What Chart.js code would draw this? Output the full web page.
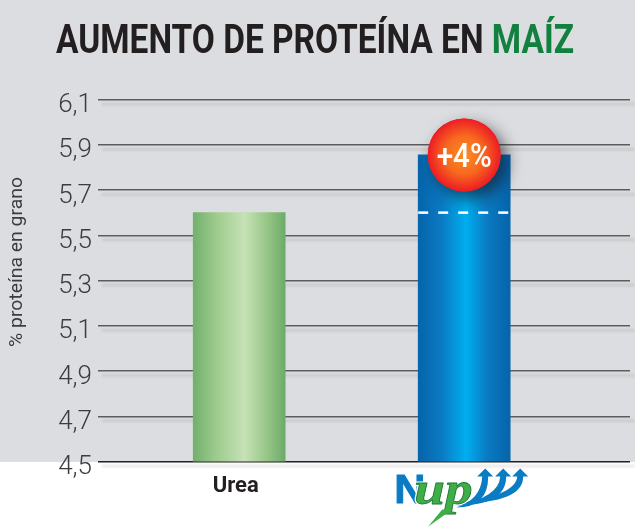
<!DOCTYPE html>
<html>
<head>
<meta charset="utf-8">
<style>
html,body{margin:0;padding:0;background:#fff;}
#wrap{position:relative;width:635px;height:528px;overflow:hidden;}
canvas{display:block;}
</style>
<script src="https://cdn.jsdelivr.net/npm/chart.js@4"></script>
</head>
<body>
<div id="wrap"><canvas id="c" width="635" height="528"></canvas></div>
<script>
const categories = ['Urea', 'Nup'];
const xTickLabels = ['Urea', ''];
const proteinValues = [5.6, 5.855];
const referenceLevel = [5.6, 5.6];
const yTickValues = [4.5, 4.7, 4.9, 5.1, 5.3, 5.5, 5.7, 5.9, 6.1];
const titleParts = ['AUMENTO DE PROTEÍNA EN ', 'MAÍZ'];
const badgeText = '+4%';
const yAxisTitle = '% proteína en grano';

const BAR_PX = 92;
const X0 = 239.2, STEP = 225;
const X_MIN = (98 - X0) / STEP, X_MAX = (630 - X0) / STEP;
const HALF_BAR = (BAR_PX / 2) / STEP;

function barGradient(ctx, cx, stops) {
  const g = ctx.createLinearGradient(cx - BAR_PX / 2, 0, cx + BAR_PX / 2, 0);
  stops.forEach(s => g.addColorStop(s[0], s[1]));
  return g;
}
const greenStops = [[0, '#72b06c'], [0.25, '#9dcb8e'], [0.56, '#c6e2b6'], [0.8, '#97c687'], [1, '#6dab68']];
const blueStops = [[0, '#0664ab'], [0.25, '#0a7ac2'], [0.52, '#00aeef'], [0.75, '#0a7ac2'], [1, '#0664ab']];

const backdrop = {
  id: 'backdrop',
  beforeDraw(chart) {
    const { ctx, scales: { y } } = chart;
    ctx.save();
    ctx.fillStyle = '#fff';
    ctx.fillRect(0, 0, chart.width, chart.height);
    ctx.fillStyle = '#dcdde0';
    ctx.fillRect(0, 0, chart.width, Math.round(y.getPixelForValue(4.5)));
    // title, condensed to the reference's width
    ctx.font = 'bold 41px Roboto, sans-serif';
    ctx.textBaseline = 'alphabetic';
    ctx.textAlign = 'left';
    const w0 = ctx.measureText(titleParts[0]).width;
    const total = w0 + ctx.measureText(titleParts[1]).width;
    ctx.save();
    ctx.translate(56, 53);
    ctx.scale(518 / total, 1);
    ctx.fillStyle = '#231f20';
    ctx.fillText(titleParts[0], 0, 0);
    ctx.fillStyle = '#12813f';
    ctx.fillText(titleParts[1], w0, 0);
    ctx.restore();
    // y axis title, condensed
    ctx.save();
    ctx.translate(17, 262);
    ctx.rotate(-Math.PI / 2);
    ctx.font = '19px Roboto, sans-serif';
    ctx.textBaseline = 'middle';
    ctx.fillStyle = '#3c3c3e';
    const ww = ctx.measureText(yAxisTitle).width;
    ctx.scale(170 / ww, 1);
    ctx.fillText(yAxisTitle, -ww / 2, 0);
    ctx.restore();
    // soft shadow under every rule
    ctx.lineWidth = 3;
    ctx.filter = 'blur(1.2px)';
    yTickValues.forEach(v => {
      const py = y.getPixelForValue(v) + 4.5;
      ctx.strokeStyle = v === 4.5 ? '#e9e9e9' : '#cbccce';
      ctx.beginPath();
      ctx.moveTo(102, py);
      ctx.lineTo(chart.width, py);
      ctx.stroke();
    });
    ctx.filter = 'none';
    ctx.restore();
  }
};

const overlay = {
  id: 'overlay',
  afterDraw(chart) {
    const { ctx, scales: { x, y } } = chart;
    const cx = x.getPixelForValue(1), cy = y.getPixelForValue(proteinValues[1]);
    const r = 36.5;
    ctx.save();
    // badge
    ctx.save();
    ctx.shadowColor = 'rgba(20,20,30,0.65)';
    ctx.shadowBlur = 16;
    ctx.shadowOffsetX = 6;
    ctx.shadowOffsetY = 7;
    ctx.fillStyle = '#ee3124';
    ctx.beginPath();
    ctx.arc(cx, cy, r, 0, Math.PI * 2);
    ctx.fill();
    ctx.restore();
    const g = ctx.createRadialGradient(cx, cy, 2, cx, cy, r);
    g.addColorStop(0, '#f98a23');
    g.addColorStop(0.5, '#f7691f');
    g.addColorStop(1, '#ed1c24');
    ctx.fillStyle = g;
    ctx.beginPath();
    ctx.arc(cx, cy, r, 0, Math.PI * 2);
    ctx.fill();
    ctx.fillStyle = '#fff';
    ctx.textAlign = 'center';
    ctx.textBaseline = 'alphabetic';
    ctx.font = '500 34px Roboto, sans-serif';
    const bw = ctx.measureText(badgeText).width;
    ctx.save();
    ctx.translate(cx, cy + 12);
    ctx.scale(55 / bw, 1);
    ctx.fillText(badgeText, 0, 0);
    ctx.restore();

    // logo, anchored under the second bar
    const lx = cx, ly = y.getPixelForValue(4.5);
    const blue = '#0a7cc4';
    ctx.textAlign = 'left';
    ctx.save();
    ctx.translate(lx - 70, ly + 41);
    ctx.scale(1.08, 1);
    ctx.fillStyle = blue;
    ctx.strokeStyle = blue;
    ctx.lineWidth = 1;
    ctx.font = 'bold 40px "Liberation Sans", sans-serif';
    ctx.fillText('N', 0, 0);
    ctx.strokeText('N', 0, 0);
    ctx.restore();
    // tapered arrows sweeping up from a common tail
    [21, 39, 56].forEach((off, i) => {
      const tip = lx + off, top = ly + 9;
      const tailX = lx - 8, tailY = ly + 46 - i * 2;
      ctx.fillStyle = blue;
      ctx.beginPath();
      ctx.moveTo(tailX, tailY);
      ctx.quadraticCurveTo(tip + 3, ly + 46 - i * 2, tip + 3, top + 6);
      ctx.lineTo(tip + 8, top + 6);
      ctx.lineTo(tip, top - 2);
      ctx.lineTo(tip - 8, top + 6);
      ctx.lineTo(tip - 3, top + 6);
      ctx.quadraticCurveTo(tip - 4, ly + 38 - i * 2, tailX, tailY);
      ctx.closePath();
      ctx.fill();
    });
    // green "up"
    ctx.save();
    ctx.translate(lx - 50, ly + 42);
    ctx.scale(1.2, 1);
    ctx.font = 'italic bold 46px "Liberation Serif", serif';
    ctx.lineJoin = 'round';
    ctx.lineWidth = 3;
    ctx.strokeStyle = '#ffffff';
    ctx.strokeText('up', 0, 0);
    ctx.fillStyle = '#3fae49';
    ctx.fillText('up', 0, 0);
    ctx.lineWidth = 0.8;
    ctx.strokeStyle = '#1f7a33';
    ctx.strokeText('up', 0, 0);
    ctx.restore();
    ctx.fillStyle = '#3fae49';
    ctx.beginPath();
    ctx.moveTo(lx - 22, ly + 48);
    ctx.lineTo(lx - 12, ly + 48);
    ctx.lineTo(lx - 36, ly + 65);
    ctx.closePath();
    ctx.fill();
    ctx.restore();
  }
};

const chart = new Chart(document.getElementById('c'), {
  data: {
    datasets: [
      {
        type: 'bar',
        label: 'Proteína',
        data: categories.map((c, i) => ({ x: i, y: proteinValues[i] })),
        barThickness: BAR_PX,
        order: 2,
        backgroundColor(ctx) {
          const s = ctx.chart.scales.x;
          const px = s && ctx.dataIndex !== undefined ? s.getPixelForValue(ctx.dataIndex) : NaN;
          if (!Number.isFinite(px)) return '#888888';
          return barGradient(ctx.chart.ctx, px, ctx.dataIndex === 0 ? greenStops : blueStops);
        }
      },
      {
        type: 'line',
        label: 'Referencia',
        data: [{ x: 1 - HALF_BAR, y: referenceLevel[0] }, { x: 1 + HALF_BAR, y: referenceLevel[1] }],
        borderColor: '#ffffff',
        borderWidth: 2.5,
        borderDash: [10, 10],
        pointRadius: 0,
        order: 1
      }
    ]
  },
  options: {
    responsive: false,
    animation: false,
    layout: { padding: { top: 99.5, right: 5, bottom: 0, left: 0 } },
    plugins: { legend: { display: false }, tooltip: { enabled: false }, title: { display: false } },
    scales: {
      x: {
        type: 'linear',
        offset: false,
        min: X_MIN,
        max: X_MAX,
        afterFit(s) { s.height = 66.5; },
        afterBuildTicks(s) { s.ticks = categories.map((c, i) => ({ value: i })); },
        grid: { display: false, drawTicks: false },
        border: { display: false },
        ticks: {
          padding: 12,
          labelOffset: -3.5,
          autoSkip: false,
          maxRotation: 0,
          color: '#231f20',
          font: { family: 'Roboto', weight: 'bold', size: 22 },
          callback: v => xTickLabels[v] === undefined ? '' : xTickLabels[v]
        }
      },
      y: {
        min: 4.5,
        max: 6.1,
        afterFit(s) { s.width = 98; },
        afterBuildTicks(s) { s.ticks = yTickValues.map(v => ({ value: v })); },
        grid: {
          drawTicks: false,
          lineWidth: 1.4,
          color: ctx => ctx.tick && ctx.tick.value === 4.5 ? '#231f20' : '#5c5c5e'
        },
        border: { display: false },
        ticks: {
          padding: 6,
          labelOffset: 6,
          color: '#3c3c3e',
          font: { family: 'Roboto', weight: '300', size: 26 },
          callback: v => v.toFixed(1).replace('.', ',')
        }
      }
    }
  },
  plugins: [backdrop, overlay]
});
chart.update('none');
</script>
</body>
</html>
